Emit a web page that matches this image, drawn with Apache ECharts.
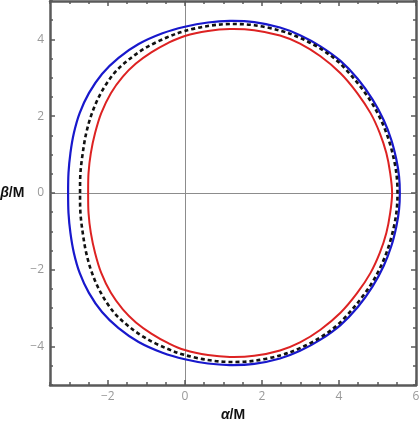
<!DOCTYPE html>
<html>
<head>
<meta charset="utf-8">
<script src="https://cdn.jsdelivr.net/npm/echarts@6/dist/echarts.min.js"></script>
<style>
html,body{margin:0;padding:0;background:#fff;}
#chart{width:419px;height:430px;}
</style>
</head>
<body>
<div id="chart"></div>
<script>
// Tick values
const xTickValues = [-2, 0, 2, 4, 6];
const yTickValues = [-4, -2, 0, 2, 4];
const xMinorTicks = [-3.5,-3,-2.5,-2,-1.5,-1,-0.5,0,0.5,1,1.5,2,2.5,3,3.5,4,4.5,5,5.5,6];
const yMinorTicks = [-5,-4.5,-4,-3.5,-3,-2.5,-2,-1.5,-1,-0.5,0,0.5,1,1.5,2,2.5,3,3.5,4,4.5,5];

// Closed curves [alpha/M, beta/M]
const blueCurve = [
  [-3.03,0],[-3.02,0.52],[-2.97,1.04],[-2.88,1.56],[-2.73,2.08],[-2.49,2.60],[-2.15,3.10],[-1.72,3.52],[-1.20,3.88],[-0.58,4.16],[0,4.33],[0.6,4.44],[1.17,4.48],[1.8,4.45],[2.47,4.31],[2.99,4.11],[3.52,3.82],[4.04,3.44],[4.49,2.97],[4.87,2.44],[5.16,1.90],[5.36,1.38],[5.49,0.87],[5.56,0.43],[5.58,0],
  [5.56,-0.43],[5.49,-0.87],[5.36,-1.38],[5.16,-1.90],[4.87,-2.44],[4.49,-2.97],[4.04,-3.44],[3.52,-3.82],[2.99,-4.11],[2.47,-4.31],[1.8,-4.45],[1.17,-4.48],[0.6,-4.44],[0,-4.33],[-0.58,-4.16],[-1.20,-3.88],[-1.72,-3.52],[-2.15,-3.10],[-2.49,-2.60],[-2.73,-2.08],[-2.88,-1.56],[-2.97,-1.04],[-3.02,-0.52]
];
const blackCurve = [
  [-2.72,0],[-2.71,0.52],[-2.65,1.04],[-2.56,1.56],[-2.41,2.08],[-2.18,2.60],[-1.85,3.10],[-1.46,3.47],[-1.00,3.79],[-0.47,4.05],[0,4.22],[0.6,4.35],[1.17,4.40],[1.8,4.37],[2.47,4.23],[2.99,4.04],[3.52,3.76],[3.99,3.41],[4.43,2.93],[4.82,2.40],[5.10,1.88],[5.30,1.36],[5.43,0.86],[5.50,0.43],[5.52,0],
  [5.50,-0.43],[5.43,-0.86],[5.30,-1.36],[5.10,-1.88],[4.82,-2.40],[4.43,-2.93],[3.99,-3.41],[3.52,-3.76],[2.99,-4.04],[2.47,-4.23],[1.8,-4.37],[1.17,-4.40],[0.6,-4.35],[0,-4.22],[-0.47,-4.05],[-1.00,-3.79],[-1.46,-3.47],[-1.85,-3.10],[-2.18,-2.60],[-2.41,-2.08],[-2.56,-1.56],[-2.65,-1.04],[-2.71,-0.52]
];
const redCurve = [
  [-2.51,0],[-2.50,0.52],[-2.44,1.04],[-2.33,1.56],[-2.17,2.08],[-1.92,2.60],[-1.61,3.03],[-1.27,3.37],[-0.87,3.66],[-0.43,3.91],[0,4.09],[0.6,4.22],[1.17,4.27],[1.8,4.24],[2.47,4.10],[2.99,3.89],[3.52,3.56],[4.04,3.12],[4.47,2.61],[4.82,2.08],[5.06,1.56],[5.23,1.04],[5.33,0.52],[5.38,0],
  [5.33,-0.52],[5.23,-1.04],[5.06,-1.56],[4.82,-2.08],[4.47,-2.61],[4.04,-3.12],[3.52,-3.56],[2.99,-3.89],[2.47,-4.10],[1.8,-4.24],[1.17,-4.27],[0.6,-4.22],[0,-4.09],[-0.43,-3.91],[-0.87,-3.66],[-1.27,-3.37],[-1.61,-3.03],[-1.92,-2.60],[-2.17,-2.08],[-2.33,-1.56],[-2.44,-1.04],[-2.50,-0.52]
];

const FRAME = '#5a5a5a';
const fmt = v => (v < 0 ? '\u2212' + Math.abs(v) : String(v));
const labelStyle = {color:'#999', fontSize:12, fontFamily:'Open Sans'};
const nameRich = {
  i:{fontSize:14,fontWeight:'bold',fontStyle:'italic',fontFamily:'Liberation Sans',color:'#111'},
  b:{fontSize:14,fontWeight:'bold',fontFamily:'Liberation Sans',color:'#111'}
};

function frameAxis(pos, min, max, opts) {
  return Object.assign({
    type:'value', position:pos, min:min, max:max, interval:0.5,
    splitLine:{show:false},
    axisLine:{show:false, onZero:false},
    axisTick:{show:false},
    axisLabel:{show:false}
  }, opts);
}
const tickStyle = {color:FRAME, width:1.5};

const xAxes = [
  frameAxis('bottom',-3.5,6,{
    axisLine:{show:true,onZero:false,lineStyle:{color:FRAME,width:2.5}},
    axisTick:{show:true,inside:true,length:3,customValues:xMinorTicks,lineStyle:tickStyle},
    axisLabel:Object.assign({show:true,customValues:xTickValues,formatter:fmt,margin:6},labelStyle),
    name:'{i|\u03b1}{b|/M}', nameLocation:'middle', nameGap:22,
    nameTextStyle:{rich:nameRich}
  }),
  frameAxis('bottom',-3.5,6,{
    axisTick:{show:true,inside:true,length:5,customValues:xTickValues,lineStyle:tickStyle}
  }),
  frameAxis('top',-3.5,6,{
    axisLine:{show:true,onZero:false,lineStyle:{color:FRAME,width:2.5}},
    axisTick:{show:true,inside:true,length:3,customValues:xMinorTicks,lineStyle:tickStyle}
  }),
  frameAxis('top',-3.5,6,{
    axisTick:{show:true,inside:true,length:5,customValues:xTickValues,lineStyle:tickStyle}
  }),
  frameAxis('bottom',-3.5,6,{
    axisLine:{show:true,onZero:true,onZeroAxisIndex:0,lineStyle:{color:'#8c8c8c',width:1}}
  })
];
const yAxes = [
  frameAxis('left',-5,5,{
    axisLine:{show:true,onZero:false,lineStyle:{color:FRAME,width:2.5}},
    axisTick:{show:true,inside:true,length:3,customValues:yMinorTicks,lineStyle:tickStyle},
    axisLabel:Object.assign({show:true,customValues:yTickValues,formatter:fmt,margin:6},labelStyle),
    name:'{i|\u03b2}{b|/M}', nameLocation:'middle', nameGap:25, nameRotate:0,
    nameTextStyle:{rich:nameRich}
  }),
  frameAxis('left',-5,5,{
    axisTick:{show:true,inside:true,length:5,customValues:yTickValues,lineStyle:tickStyle}
  }),
  frameAxis('right',-5,5,{
    axisLine:{show:true,onZero:false,lineStyle:{color:FRAME,width:2.5}},
    axisTick:{show:true,inside:true,length:3,customValues:yMinorTicks,lineStyle:tickStyle}
  }),
  frameAxis('right',-5,5,{
    axisTick:{show:true,inside:true,length:5,customValues:yTickValues,lineStyle:tickStyle}
  }),
  frameAxis('left',-5,5,{
    axisLine:{show:true,onZero:true,onZeroAxisIndex:0,lineStyle:{color:'#8c8c8c',width:1}}
  })
];

// Smooth closed curve (Catmull-Rom -> cubic Bezier) through points mapped by the chart's axes
function closedCurveSeries(curve, style, z) {
  return {
    type:'custom', xAxisIndex:0, yAxisIndex:0, z:z, silent:true,
    data:[curve[0]],
    renderItem:function(params, api){
      const p = curve.map(d => api.coord(d));
      const n = p.length;
      let d = 'M' + p[0][0] + ' ' + p[0][1];
      for (let i = 0; i < n; i++) {
        const p0 = p[(i - 1 + n) % n], p1 = p[i], p2 = p[(i + 1) % n], p3 = p[(i + 2) % n];
        const c1x = p1[0] + (p2[0] - p0[0]) / 6, c1y = p1[1] + (p2[1] - p0[1]) / 6;
        const c2x = p2[0] - (p3[0] - p1[0]) / 6, c2y = p2[1] - (p3[1] - p1[1]) / 6;
        d += ' C' + c1x + ' ' + c1y + ' ' + c2x + ' ' + c2y + ' ' + p2[0] + ' ' + p2[1];
      }
      d += ' Z';
      return {type:'path', shape:{pathData:d}, style:Object.assign({fill:'none'}, style)};
    }
  };
}

const chart = echarts.init(document.getElementById('chart'), null, {renderer:'canvas'});
chart.setOption({
  animation:false,
  backgroundColor:'#fff',
  grid:{left:50, right:3, top:1, bottom:45, containLabel:false, outerBoundsMode:'none'},
  xAxis:xAxes,
  yAxis:yAxes,
  series:[
    closedCurveSeries(blueCurve, {stroke:'#1818cc', lineWidth:2.2}, 3),
    closedCurveSeries(redCurve, {stroke:'#dd2222', lineWidth:2}, 4),
    closedCurveSeries(blackCurve, {stroke:'#111', lineWidth:2.6, lineDash:[4,3]}, 5)
  ]
});
</script>
</body>
</html>
